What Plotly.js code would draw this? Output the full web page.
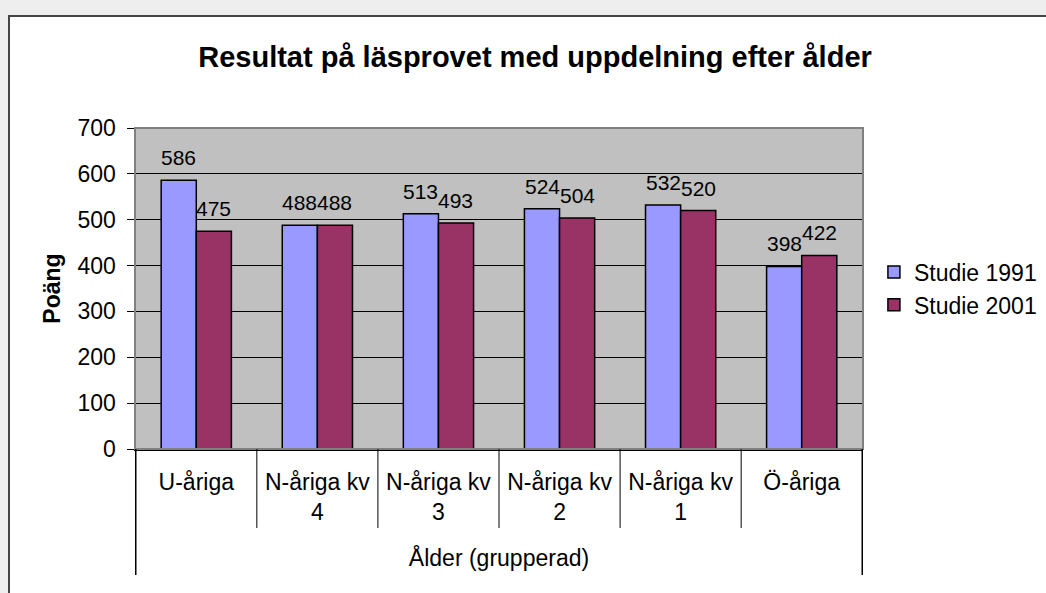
<!DOCTYPE html>
<html>
<head>
<meta charset="utf-8">
<script src="https://cdn.plot.ly/plotly-3.0.1.min.js"></script>
<style>
  html, body { margin: 0; padding: 0; background: #eeeeee; overflow: hidden; }
  #frame {
    position: absolute; left: 8px; top: 15px;
    width: 1060px; height: 580px;
    background: #ffffff;
    border-top: 2px solid #444444;
    border-left: 2px solid #444444;
  }
</style>
</head>
<body>
<div id="frame"></div>
<script>
const categories = ['U-åriga', 'N-åriga kv<br>4', 'N-åriga kv<br>3', 'N-åriga kv<br>2', 'N-åriga kv<br>1', 'Ö-åriga'];
const studie1991 = [586, 488, 513, 524, 532, 398];
const studie2001 = [475, 488, 493, 504, 520, 422];
const seriesNames = ['Studie 1991', 'Studie 2001'];
const yTicks = [0, 100, 200, 300, 400, 500, 600, 700];

const frame = document.getElementById('frame');
const font = 'Arial, "Liberation Sans", sans-serif';

const data = [
  { type: 'bar', x: categories, y: studie1991, name: seriesNames[0],
    marker: { color: '#9999ff', line: { color: '#000000', width: 1.5 } } },
  { type: 'bar', x: categories, y: studie2001, name: seriesNames[1],
    marker: { color: '#993366', line: { color: '#000000', width: 1.5 } } }
];

// value labels above each bar
const annotations = [];
const half = 17.5;
for( let i = 0; i < categories.length; i++ ) {
  annotations.push({ x: categories[i], y: studie1991[i], text: String(studie1991[i]),
    xshift: -half, yshift: 9, yanchor: 'bottom', showarrow: false,
    font: { family: font, size: 21, color: '#000' } });
  annotations.push({ x: categories[i], y: studie2001[i], text: String(studie2001[i]),
    xshift: half, yshift: 9, yanchor: 'bottom', showarrow: false,
    font: { family: font, size: 21, color: '#000' } });
}

// separators between categories, the outer ones run further down
const shapes = [
  { type: 'rect', xref: 'paper', yref: 'paper', x0: 0, x1: 1, y0: 0, y1: 1,
    line: { color: '#808080', width: 2 } }
];
for( let i = 0; i <= categories.length; i++ ) {
  const outer = (i === 0 || i === categories.length);
  shapes.push({ type: 'line', xref: 'x', yref: 'paper', x0: i - 0.5, x1: i - 0.5,
    y0: 0, y1: outer ? -0.3925 : -0.246,
    line: { color: '#000000', width: outer ? 1.5 : 1 } });
}

const layout = {
  width: 1060,
  height: 580,
  margin: { l: 125, r: 207, t: 111, b: 148 },
  paper_bgcolor: '#ffffff',
  plot_bgcolor: '#c0c0c0',
  font: { family: font, size: 23, color: '#000000' },
  title: {
    text: '<b>Resultat på läsprovet med uppdelning efter ålder</b>',
    font: { family: font, size: 29, color: '#000000' },
    xref: 'container', yref: 'container', x: 0.4953, y: 0.931,
    xanchor: 'center', yanchor: 'middle'
  },
  barmode: 'group',
  bargap: 0.42,
  bargroupgap: 0,
  xaxis: {
    type: 'category',
    showgrid: false,
    showline: true, linecolor: '#000000', linewidth: 1.5,
    ticks: '',
    ticklabelstandoff: 12,
    tickfont: { family: font, size: 23 },
    title: { text: 'Ålder (grupperad)', font: { family: font, size: 23 }, standoff: 26 }
  },
  yaxis: {
    range: [0, 700],
    tickvals: yTicks,
    showgrid: true, gridcolor: '#000000', gridwidth: 1,
    showline: true, linecolor: '#000000', linewidth: 1.5,
    ticks: 'outside', ticklen: 7, tickcolor: '#000000',
    ticklabelstandoff: 6,
    zeroline: false,
    tickfont: { family: font, size: 23 },
    title: { text: '<b>Poäng</b>', font: { family: font, size: 23 }, standoff: 10 }
  },
  legend: {
    x: 1.015, y: 0.5, xanchor: 'left', yanchor: 'middle',
    font: { family: font, size: 23 },
    itemwidth: 30, tracegroupgap: 0,
    bgcolor: 'rgba(0,0,0,0)'
  },
  annotations: annotations,
  shapes: shapes
};

Plotly.newPlot(frame, data, layout, { displayModeBar: false, staticPlot: true });
</script>
</body>
</html>
